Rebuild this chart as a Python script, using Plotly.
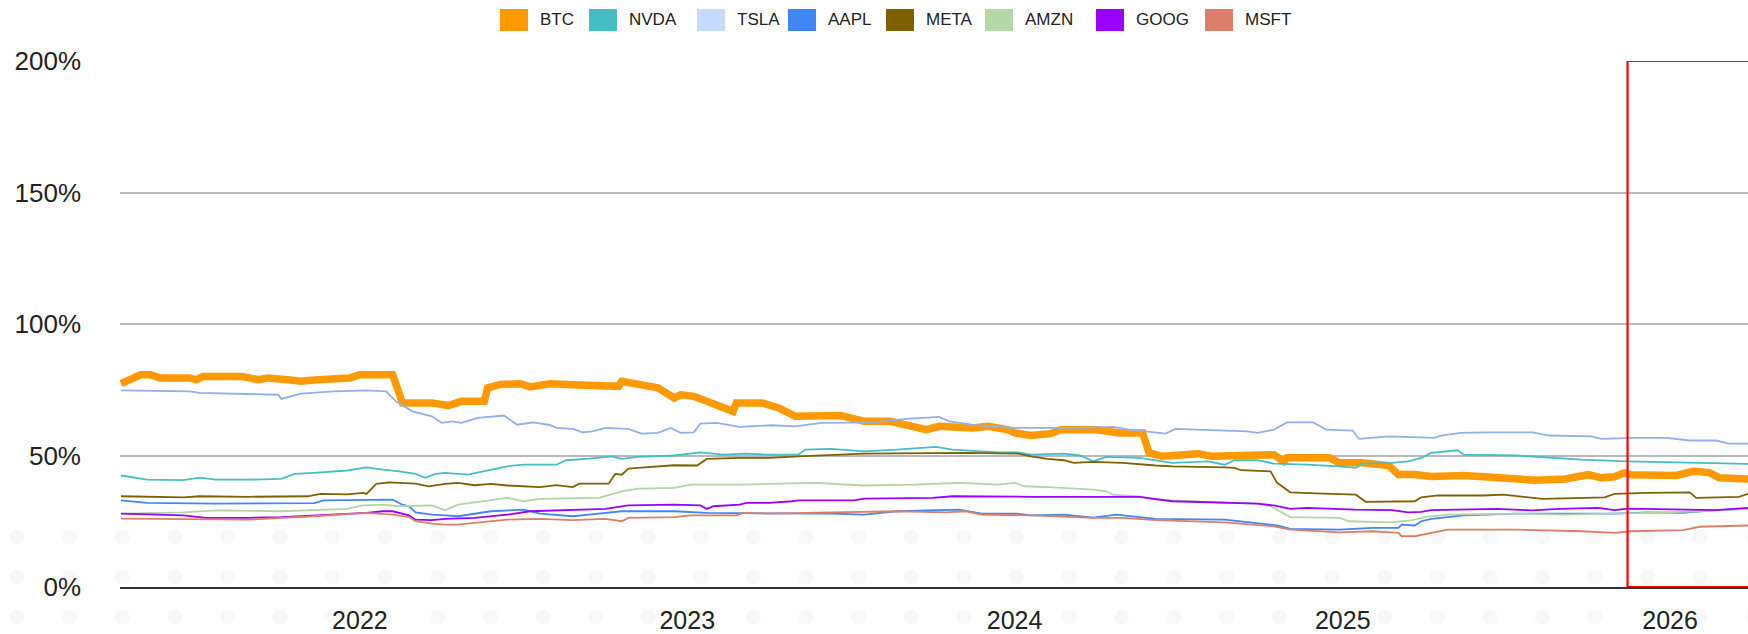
import plotly.graph_objects as go
import pandas as pd

# ---------------- data (fractional years, percent) ----------------
SERIES = ["BTC", "NVDA", "TSLA", "AAPL", "META", "AMZN", "GOOG", "MSFT"]

T_BTC = [2021.27, 2021.30, 2021.33, 2021.36, 2021.39, 2021.48, 2021.50, 2021.52, 2021.61, 2021.64, 2021.69, 2021.72, 2021.78, 2021.82, 2021.87, 2021.97,
         2022.00, 2022.10, 2022.13, 2022.22, 2022.27, 2022.31, 2022.38, 2022.39, 2022.43, 2022.49, 2022.52, 2022.58, 2022.65, 2022.75, 2022.79, 2022.80, 2022.88, 2022.91, 2022.96, 2022.98,
         2023.02, 2023.11, 2023.14, 2023.15, 2023.23, 2023.28, 2023.33, 2023.47, 2023.51, 2023.54, 2023.62, 2023.67, 2023.73, 2023.77, 2023.87, 2023.92, 2023.98,
         2024.00, 2024.05, 2024.11, 2024.14, 2024.25, 2024.30, 2024.32, 2024.39, 2024.41, 2024.45, 2024.56, 2024.60, 2024.71, 2024.79, 2024.82, 2024.83, 2024.96, 2024.99,
         2025.06, 2025.14, 2025.17, 2025.22, 2025.27, 2025.37, 2025.43, 2025.53, 2025.59, 2025.68, 2025.75, 2025.79, 2025.83, 2025.86, 2025.88,
         2026.02, 2026.07, 2026.12, 2026.15, 2026.24]
V_BTC = [77.3, 79.1, 80.7, 80.7, 79.5, 79.5, 78.8, 80.0, 79.5, 80.0, 78.8, 79.5, 78.8, 78.2, 78.8, 79.5,
         80.7, 80.7, 70.0, 70.0, 69.0, 70.6, 70.6, 75.7, 77.0, 77.3, 76.1, 77.3, 76.9, 76.6, 76.3, 78.2, 76.9, 75.7, 71.9, 73.1,
         72.5, 68.7, 66.8, 70.0, 70.0, 68.1, 64.9, 65.2, 64.3, 63.0, 63.0, 61.7, 59.8, 61.1, 60.5, 61.1, 59.8,
         58.6, 57.6, 58.3, 59.8, 59.8, 59.2, 58.6, 58.6, 51.0, 49.7, 50.7, 49.7, 50.3, 50.3, 47.8, 49.1, 49.1, 47.2,
         47.2, 46.2, 42.8, 42.8, 42.0, 42.4, 41.9, 41.5, 40.6, 41.1, 42.7, 41.5, 41.9, 43.4, 42.7,
         42.4, 44.0, 43.5, 41.5, 41.1]

T_NVDA = [2021.27, 2021.35, 2021.46, 2021.51, 2021.56, 2021.66, 2021.76, 2021.80, 2021.86, 2021.96,
          2022.02, 2022.07, 2022.12, 2022.17, 2022.20, 2022.23, 2022.26, 2022.33, 2022.45, 2022.50, 2022.60, 2022.63, 2022.70, 2022.77, 2022.80, 2022.85, 2022.96,
          2023.04, 2023.11, 2023.18, 2023.25, 2023.34, 2023.36, 2023.44, 2023.54, 2023.64, 2023.76, 2023.81, 2023.95,
          2024.01, 2024.05, 2024.15, 2024.20, 2024.24, 2024.28, 2024.38, 2024.48, 2024.59, 2024.64, 2024.67, 2024.74, 2024.79, 2024.89, 2024.99,
          2025.04, 2025.06, 2025.15, 2025.20, 2025.24, 2025.27, 2025.35, 2025.37, 2025.53, 2025.63, 2025.73, 2025.87,
          2026.04, 2026.24]
V_NVDA = [42.4, 40.8, 40.6, 41.6, 40.8, 40.8, 41.1, 43.0, 43.4, 44.3,
          45.5, 44.6, 44.0, 43.0, 41.5, 43.0, 43.4, 42.7, 45.9, 46.5, 46.5, 48.2, 48.8, 49.7, 48.7, 49.5, 50.0,
          51.2, 50.3, 50.7, 50.3, 50.3, 52.2, 52.5, 51.6, 52.2, 53.3, 52.2, 51.2,
          51.2, 50.3, 50.7, 50.0, 47.8, 49.5, 49.1, 47.2, 47.8, 46.5, 48.2, 48.2, 46.9, 46.5, 45.9,
          45.3, 46.9, 47.2, 47.8, 49.1, 51.0, 52.0, 50.3, 50.0, 49.1, 48.4, 47.8,
          47.4, 46.8]

T_TSLA = [2021.27, 2021.48, 2021.51, 2021.72, 2021.75, 2021.76, 2021.78, 2021.82, 2021.92,
          2022.02, 2022.08, 2022.11, 2022.16, 2022.22, 2022.25, 2022.28, 2022.31, 2022.36, 2022.44, 2022.48, 2022.53, 2022.58, 2022.60, 2022.65, 2022.68, 2022.71, 2022.75, 2022.82, 2022.86, 2022.91, 2022.95, 2022.98,
          2023.02, 2023.04, 2023.09, 2023.16, 2023.26, 2023.33, 2023.41, 2023.57, 2023.67, 2023.77, 2023.80, 2023.87, 2023.92,
          2024.00, 2024.20, 2024.30, 2024.35, 2024.46, 2024.49, 2024.60, 2024.71, 2024.74, 2024.79, 2024.83, 2024.91, 2024.95,
          2025.03, 2025.05, 2025.14, 2025.28, 2025.30, 2025.36, 2025.44, 2025.58, 2025.63, 2025.76, 2025.79, 2025.89, 2025.99,
          2026.06, 2026.14, 2026.18, 2026.24]
V_TSLA = [74.8, 74.4, 73.8, 73.1, 73.1, 71.5, 72.2, 73.5, 74.4,
          74.8, 74.4, 70.6, 66.8, 64.9, 62.4, 63.0, 62.4, 64.3, 65.2, 61.7, 62.6, 61.6, 60.5, 60.1, 58.8, 59.2, 60.5, 60.1, 58.3, 58.6, 60.5, 58.6,
          58.8, 62.1, 62.4, 60.9, 61.5, 61.1, 62.4, 62.6, 63.9, 64.7, 63.0, 61.7, 61.1,
          60.5, 60.5, 60.9, 59.8, 58.3, 60.1, 59.6, 59.2, 58.6, 59.8, 62.6, 62.6, 59.8,
          59.5, 56.3, 57.3, 56.7, 57.6, 58.6, 58.8, 58.8, 57.6, 57.3, 56.3, 56.7, 56.7,
          55.7, 55.7, 54.5, 54.5]

T_AAPL = [2021.27, 2021.35, 2021.56, 2021.76, 2021.86, 2021.89,
          2022.10, 2022.13, 2022.15, 2022.17, 2022.22, 2022.26, 2022.30, 2022.40, 2022.50, 2022.55, 2022.65, 2022.70, 2022.80, 2022.96,
          2023.06, 2023.25, 2023.44, 2023.54, 2023.64, 2023.83, 2023.90,
          2024.01, 2024.05, 2024.15, 2024.24, 2024.31, 2024.43, 2024.64, 2024.74, 2024.80, 2024.84, 2024.99,
          2025.09, 2025.17, 2025.18, 2025.22, 2025.24, 2025.27, 2025.37, 2025.53, 2025.83, 2025.93,
          2026.04, 2026.14, 2026.24]
V_AAPL = [32.9, 32.0, 31.7, 31.7, 31.9, 32.9,
          33.2, 31.3, 30.7, 28.4, 27.5, 27.2, 26.9, 28.8, 29.4, 27.9, 26.9, 27.5, 28.8, 28.8,
          28.2, 28.0, 27.9, 27.5, 28.8, 29.4, 27.9,
          27.9, 27.2, 27.5, 26.4, 27.5, 25.9, 25.6, 24.4, 23.4, 22.1, 21.8,
          22.5, 22.5, 23.7, 23.4, 25.0, 25.9, 27.2, 27.9, 27.9, 28.4,
          28.2, 29.2, 29.7]

T_META = [2021.27, 2021.46, 2021.51, 2021.66, 2021.84, 2021.88, 2021.96,
          2022.01, 2022.02, 2022.05, 2022.09, 2022.17, 2022.21, 2022.26, 2022.30, 2022.35, 2022.40, 2022.45, 2022.55, 2022.60, 2022.65, 2022.67, 2022.76, 2022.78, 2022.80, 2022.82, 2022.85, 2022.96,
          2023.03, 2023.06, 2023.16, 2023.25, 2023.34, 2023.54, 2023.85,
          2024.01, 2024.05, 2024.10, 2024.15, 2024.18, 2024.24, 2024.33, 2024.43, 2024.48, 2024.64, 2024.67, 2024.69, 2024.78, 2024.80, 2024.84, 2024.94,
          2025.04, 2025.07, 2025.20, 2025.22, 2025.24, 2025.29, 2025.43, 2025.49, 2025.61, 2025.80, 2025.83, 2025.93,
          2026.06, 2026.08, 2026.21, 2026.24]
V_META = [34.5, 34.1, 34.5, 34.3, 34.5, 35.4, 35.2,
          35.8, 35.4, 39.2, 39.8, 39.3, 38.3, 39.2, 39.6, 38.7, 39.2, 38.6, 38.0, 38.7, 38.0, 39.3, 39.3, 43.0, 42.7, 45.0, 45.3, 46.3,
          46.2, 48.7, 49.1, 49.1, 49.7, 50.7, 51.0,
          50.7, 49.7, 48.7, 48.2, 47.2, 47.6, 47.2, 46.2, 45.9, 45.5, 45.3, 44.4, 44.0, 39.6, 36.0, 35.5,
          35.1, 32.4, 32.4, 32.6, 34.1, 34.8, 34.8, 35.1, 33.5, 34.1, 35.4, 35.8,
          36.0, 33.9, 34.3, 35.5]

T_AMZN = [2021.27, 2021.35, 2021.46, 2021.56, 2021.76, 2021.96,
          2022.01, 2022.07, 2022.12, 2022.22, 2022.26, 2022.30, 2022.40, 2022.45, 2022.50, 2022.55, 2022.73, 2022.80, 2022.85, 2022.96,
          2023.01, 2023.16, 2023.25, 2023.39, 2023.54, 2023.69, 2023.83, 2023.95,
          2024.00, 2024.03, 2024.10, 2024.20, 2024.24, 2024.28, 2024.30, 2024.38, 2024.43, 2024.53, 2024.64, 2024.74, 2024.78, 2024.82, 2024.84, 2024.99,
          2025.02, 2025.14, 2025.21, 2025.25, 2025.32, 2025.53, 2025.68, 2025.93,
          2026.09, 2026.24]
V_AMZN = [27.9, 28.2, 28.4, 29.1, 28.8, 29.7,
          31.0, 31.3, 30.7, 31.0, 29.2, 31.3, 33.0, 33.9, 32.6, 33.5, 33.9, 36.4, 37.4, 37.7,
          38.9, 38.9, 39.2, 39.6, 38.6, 38.9, 39.6, 38.9,
          39.6, 38.3, 38.0, 37.3, 37.0, 36.4, 35.1, 34.5, 33.2, 32.6, 32.2, 31.7, 30.7, 27.9, 26.6, 26.3,
          25.0, 24.6, 25.3, 26.6, 27.5, 27.9, 27.5, 28.2,
          28.8, 29.7]

T_GOOG = [2021.27, 2021.46, 2021.53, 2021.66, 2021.76, 2021.86,
          2022.02, 2022.07, 2022.10, 2022.15, 2022.17, 2022.22, 2022.26, 2022.35, 2022.45, 2022.52, 2022.65, 2022.75, 2022.82, 2022.96,
          2023.04, 2023.06, 2023.08, 2023.16, 2023.18, 2023.25, 2023.32, 2023.34, 2023.51, 2023.54, 2023.75, 2023.81,
          2024.05, 2024.38, 2024.48, 2024.64, 2024.74, 2024.79, 2024.84, 2024.89,
          2025.04, 2025.15, 2025.20, 2025.24, 2025.27, 2025.47, 2025.58, 2025.66, 2025.78, 2025.83, 2025.87,
          2026.14, 2026.24]
V_GOOG = [27.9, 27.2, 26.3, 26.3, 26.6, 27.2,
          28.2, 28.8, 28.8, 27.2, 25.6, 25.4, 25.9, 26.3, 27.5, 28.8, 29.2, 29.7, 31.0, 31.3,
          31.0, 29.7, 30.7, 31.3, 32.0, 32.0, 32.6, 32.9, 32.9, 33.6, 33.9, 34.5,
          34.3, 34.3, 32.6, 32.2, 31.7, 31.0, 29.7, 30.1,
          29.4, 29.2, 28.4, 28.6, 29.2, 29.7, 29.1, 29.7, 30.1, 29.2, 29.8,
          29.2, 30.1]

T_MSFT = [2021.27, 2021.35, 2021.51, 2021.66, 2021.86,
          2022.02, 2022.10, 2022.15, 2022.17, 2022.22, 2022.26, 2022.30, 2022.35, 2022.45, 2022.55, 2022.65, 2022.75, 2022.80, 2022.82, 2022.96,
          2023.01, 2023.15, 2023.17, 2023.25, 2023.44, 2023.64, 2023.79, 2023.85, 2023.90,
          2024.05, 2024.24, 2024.33, 2024.43, 2024.64, 2024.79, 2024.84, 2024.99,
          2025.09, 2025.17, 2025.18, 2025.22, 2025.27, 2025.32, 2025.53, 2025.73, 2025.83, 2025.88,
          2026.04, 2026.09, 2026.24]
V_MSFT = [26.0, 25.9, 25.8, 25.6, 26.9,
          28.2, 27.5, 26.6, 25.0, 24.1, 23.7, 23.7, 24.4, 25.6, 25.9, 25.4, 25.9, 25.0, 26.3, 26.6,
          27.2, 27.2, 28.2, 27.9, 28.4, 28.8, 28.4, 28.8, 27.5,
          27.2, 26.3, 26.3, 25.4, 24.6, 23.1, 21.8, 20.8,
          21.2, 20.6, 19.3, 19.3, 20.6, 21.8, 21.8, 21.2, 20.6, 21.2,
          21.6, 22.9, 23.4]

X_START, X_END = 2021.267, 2026.238          # visible time window
HIGHLIGHT_START = 2025.87                    # red highlighted region start
YEAR_TICKS = [2022, 2023, 2024, 2025, 2026]
Y_TICKS = [0, 50, 100, 150, 200]

DATA = {
    "BTC": (T_BTC, V_BTC), "NVDA": (T_NVDA, V_NVDA), "TSLA": (T_TSLA, V_TSLA),
    "AAPL": (T_AAPL, V_AAPL), "META": (T_META, V_META), "AMZN": (T_AMZN, V_AMZN),
    "GOOG": (T_GOOG, V_GOOG), "MSFT": (T_MSFT, V_MSFT),
}

# ---------------- styles ----------------
LINE_COLORS = {"BTC": "#FF9900", "NVDA": "#46BDC6", "TSLA": "#8FB0EA", "AAPL": "#4285F4",
               "META": "#7F6000", "AMZN": "#B2D4A4", "GOOG": "#9900FF", "MSFT": "#DD7E6B"}
SWATCH_COLORS = {"BTC": "#FF9900", "NVDA": "#46BDC6", "TSLA": "#C6DAFC", "AAPL": "#4285F4",
                 "META": "#7F6000", "AMZN": "#B6D7A8", "GOOG": "#9900FF", "MSFT": "#DD7E6B"}
LINE_WIDTHS = {"BTC": 7.5}
LEGEND_LEFT_PX = [500, 589, 697, 788, 886, 985, 1096, 1205]
FONT = "Arial, 'Liberation Sans', sans-serif"

W, H = 1748, 634
ML, MR, MT, MB = 120, 0, 61, 47
PW, PH = W - ML - MR, H - MT - MB


def yr(t):
    y = int(t)
    start = pd.Timestamp(year=y, month=1, day=1)
    n = 366 if y % 4 == 0 else 365
    return start + pd.Timedelta(days=(t - y) * n)


def px_x(px):
    return (px - ML) / PW


def px_y(py):
    return (H - MB - py) / PH


fig = go.Figure()
for name in SERIES:
    ts, vs = DATA[name]
    assert len(ts) == len(vs), name
    fig.add_trace(go.Scatter(
        x=[yr(t) for t in ts], y=vs, mode="lines", name=name,
        line=dict(color=LINE_COLORS[name], width=LINE_WIDTHS.get(name, 1.8)),
        showlegend=False, hoverinfo="skip"))

shapes = []
# faint background dot pattern
for row_y in (537, 577, 617):
    cx = 17.0
    while cx < W + 10:
        shapes.append(dict(type="circle", xref="paper", yref="paper",
                           x0=px_x(cx - 7.5), x1=px_x(cx + 7.5), y0=px_y(row_y + 7.5), y1=px_y(row_y - 7.5),
                           fillcolor="#f8f8f8", line=dict(width=0), layer="below"))
        cx += 52.6

# highlighted region
shapes.append(dict(type="rect", xref="x", yref="y", x0=yr(HIGHLIGHT_START), x1=yr(X_END + 0.5),
                   y0=0, y1=200, line=dict(color="#FF0000", width=2.2), fillcolor="rgba(0,0,0,0)",
                   layer="above"))

# manual legend with square swatches
annotations = []
for name, left in zip(SERIES, LEGEND_LEFT_PX):
    shapes.append(dict(type="rect", xref="paper", yref="paper",
                       x0=px_x(left), x1=px_x(left + 28), y0=px_y(31), y1=px_y(9),
                       fillcolor=SWATCH_COLORS[name], line=dict(width=0)))
    annotations.append(dict(xref="paper", yref="paper", x=px_x(left + 38), y=px_y(20),
                            xanchor="left", yanchor="middle", text=name, showarrow=False,
                            font=dict(size=17, color="#222222", family=FONT)))

fig.update_layout(
    width=W, height=H,
    margin=dict(l=ML, r=MR, t=MT, b=MB, pad=0, autoexpand=False),
    paper_bgcolor="white", plot_bgcolor="rgba(0,0,0,0)",
    font=dict(family=FONT, color="#222222"),
    showlegend=False,
    shapes=shapes, annotations=annotations,
    xaxis=dict(type="date", range=[yr(X_START), yr(X_END)], automargin=False,
               tickvals=[yr(y) for y in YEAR_TICKS], ticktext=[str(y) for y in YEAR_TICKS],
               showgrid=False, zeroline=False, showline=True, linecolor="#333333", linewidth=1.6,
               ticks="", tickfont=dict(size=25, color="#222222"), ticklabelstandoff=10),
    yaxis=dict(range=[0, 200], tickvals=Y_TICKS, ticktext=[f"{v}%" for v in Y_TICKS], automargin=False,
               showgrid=True, gridcolor="#b9b9b9", gridwidth=1.5, zeroline=False, showline=False,
               ticks="", tickfont=dict(size=26, color="#222222"), ticklabelstandoff=38),
)

fig.write_html("out.html", config={"displayModeBar": False},
               post_script="document.body.style.margin='0';document.body.style.overflow='hidden';")
